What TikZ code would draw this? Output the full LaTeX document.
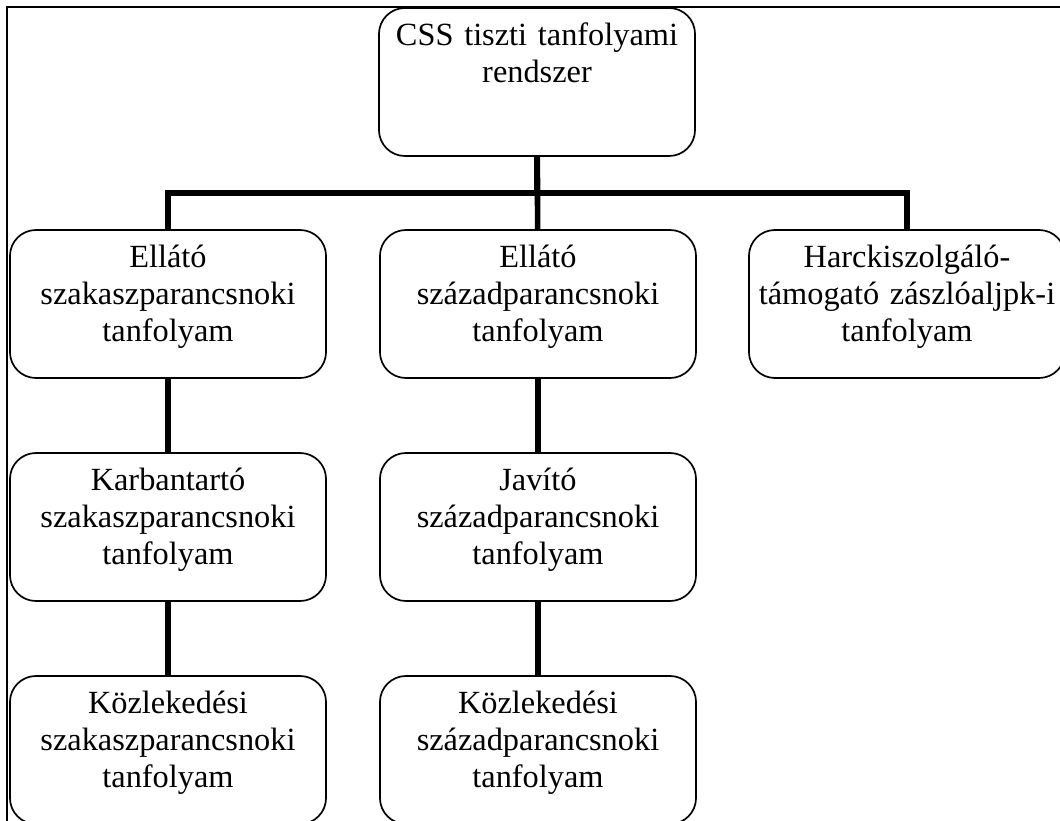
\documentclass[tikz,border=0pt]{standalone}
\usepackage{fontspec}
\setmainfont{Liberation Serif}

\begin{document}
\begin{tikzpicture}
  [x=0.025cm,y=-0.025cm,
   every node/.style={draw,line width=1.2pt,rounded corners=0.65cm,inner sep=0pt,
     text width=7.9cm,align=center,text height=0.95cm,text depth=2.75cm,
     font=\fontsize{23}{26.3}\selectfont},
   conn/.style={line width=4pt}]
  \useasboundingbox (0,0) rectangle (1060,821);
  \draw[line width=1pt] (7,7) rectangle (1090,850);

  \node (n0) at (537,82)  {CSS tiszti tanfolyami\\rendszer};
  \node (n1) at (168,304) {Ellátó\\szakaszparancsnoki\\tanfolyam};
  \node (n2) at (538,304) {Ellátó\\századparancsnoki\\tanfolyam};
  \node (n3) at (907,304) {Harckiszolgáló-\\támogató zászlóaljpk-i\\tanfolyam};
  \node (n4) at (168,527) {Karbantartó\\szakaszparancsnoki\\tanfolyam};
  \node (n5) at (538,527) {Javító\\századparancsnoki\\tanfolyam};
  \node (n6) at (168,750) {Közlekedési\\szakaszparancsnoki\\tanfolyam};
  \node (n7) at (538,750) {Közlekedési\\századparancsnoki\\tanfolyam};

  \coordinate (bar) at (537,193);
  \draw[conn] (n0.south) -- (bar);
  \draw[conn] (n1.north) -- (n1.north |- bar) -- (n3.north |- bar) -- (n3.north);

  \foreach \from/\to in {n0/n2,n1/n4,n4/n6,n2/n5,n5/n7}
    \draw[conn] (\from) -- (\to);

\end{tikzpicture}
\end{document}
